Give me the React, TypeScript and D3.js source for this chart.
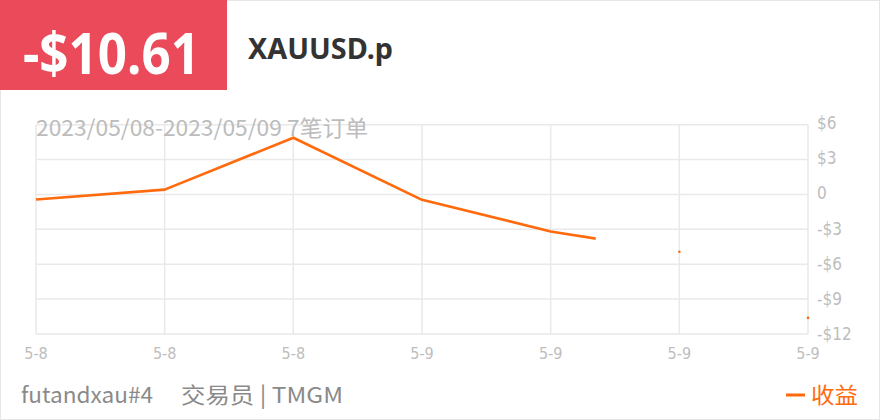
import React, { useEffect } from "react";
import * as d3 from "d3";

const xLabels = ["5-8", "5-8", "5-8", "5-9", "5-9", "5-9", "5-9"];
const profitValues = [-0.43, 0.42, 4.88, -0.46, -3.18, -4.93, -10.61];
const yTicks = [6, 3, 0, -3, -6, -9, -12];
const revealedIndex = 4.35; // line drawn (animated) up to this x-index

const totalLabel = "-$10.61";
const symbol = "XAUUSD.p";
const subtitle = "2023/05/08-2023/05/09 7笔订单";
const account = "futandxau#4";
const trader = "交易员 | TMGM";
const legendLabel = "收益";

const W = 880;
const H = 420;
const left = 36;
const right = 808;
const top = 124.7;
const bottom = 334;
const ORANGE = "#ff6a0d";
const GRID = "#e9e9e9";
const AXIS_TXT = "#bdbdbd";
const NARROW = "'Liberation Sans Narrow', 'Arial Narrow', 'DejaVu Sans Condensed', sans-serif";
const SANS = "'Noto Sans CJK SC', 'Noto Sans', sans-serif";

export default function App() {
  useEffect(() => {
    document.body.style.margin = "0";
  }, []);

  const x = d3.scaleLinear().domain([0, profitValues.length - 1]).range([left, right]);
  const y = d3.scaleLinear().domain([-12, 6]).range([bottom, top]);

  const pts: [number, number][] = profitValues.map((v, i) => [x(i), y(v)]);
  const line = d3.line<[number, number]>().x((d) => d[0]).y((d) => d[1]);
  const clipX = x(revealedIndex);

  return (
    <svg width={W} height={H} style={{ position: "absolute", left: 0, top: 0, display: "block" }}>
      <rect x={0.5} y={0.5} width={W - 1} height={H - 1} fill="#fff" stroke="#e6e6e6" />
      <defs>
        <clipPath id="reveal">
          <rect x={0} y={0} width={clipX} height={H} />
        </clipPath>
      </defs>

      {/* header */}
      <rect x={0} y={0} width={227} height={90} fill="#ea4a5a" />
      <text
        x={23}
        y={73.5}
        fill="#fff"
        fontFamily="'Noto Sans', 'DejaVu Sans', sans-serif"
        fontWeight={700}
        fontSize={58}
        textLength={177}
        lengthAdjust="spacingAndGlyphs"
      >
        {totalLabel}
      </text>
      <text
        x={248}
        y={58.5}
        fill="#333"
        fontFamily="'Noto Sans', sans-serif"
        fontWeight={700}
        fontSize={28}
        textLength={145}
        lengthAdjust="spacingAndGlyphs"
      >
        {symbol}
      </text>

      {/* grid */}
      {yTicks.map((t) => (
        <line key={"h" + t} x1={left} x2={right} y1={y(t)} y2={y(t)} stroke={GRID} strokeWidth={1.5} />
      ))}
      {xLabels.map((_, i) => (
        <line key={"v" + i} x1={x(i)} x2={x(i)} y1={top} y2={bottom} stroke={GRID} strokeWidth={1.5} />
      ))}

      {/* subtitle */}
      <text x={36} y={136} fill="#bcbcbc" fontFamily={SANS} fontSize={22} textLength={332} lengthAdjust="spacingAndGlyphs">
        {subtitle}
      </text>

      {/* y labels */}
      {yTicks.map((t) => (
        <text key={"yl" + t} x={817} y={y(t) + (t < 0 ? 5.5 : 4.5)} fill={AXIS_TXT} fontFamily={NARROW} fontSize={17}>
          {t === 0 ? "0" : (t < 0 ? "-$" : "$") + Math.abs(t)}
        </text>
      ))}

      {/* x labels */}
      {xLabels.map((l, i) => (
        <text key={"xl" + i} x={x(i)} y={359} textAnchor="middle" fill={AXIS_TXT} fontFamily={NARROW} fontSize={16}>
          {l}
        </text>
      ))}

      {/* line */}
      <path d={line(pts) || ""} fill="none" stroke={ORANGE} strokeWidth={2.6} strokeLinejoin="round" clipPath="url(#reveal)" />
      {pts.map((p, i) =>
        i > revealedIndex ? <circle key={"pt" + i} cx={p[0]} cy={p[1]} r={1.3} fill={ORANGE} /> : null
      )}

      {/* footer */}
      <text x={21} y={403} fill="#8a8a8a" fontFamily={SANS} fontSize={22} textLength={132} lengthAdjust="spacingAndGlyphs">
        {account}
      </text>
      <text x={181} y={403} fill="#8a8a8a" fontFamily={SANS} fontSize={22} textLength={162} lengthAdjust="spacingAndGlyphs">
        {trader}
      </text>
      <line x1={786} x2={805} y1={395} y2={395} stroke={ORANGE} strokeWidth={3} />
      <text x={811} y={403} fill={ORANGE} fontFamily={SANS} fontSize={22} textLength={47} lengthAdjust="spacingAndGlyphs">
        {legendLabel}
      </text>
    </svg>
  );
}
